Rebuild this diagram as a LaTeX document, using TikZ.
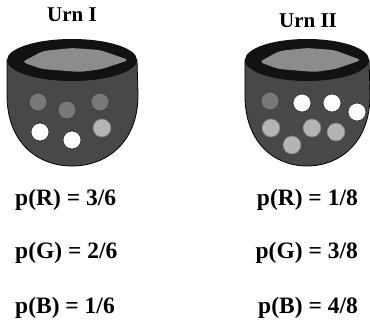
\documentclass[tikz,border=0pt]{standalone}
\usepackage{fontspec}
\setmainfont{Liberation Serif}
\definecolor{urnbody}{HTML}{484848}
\definecolor{urnrim}{HTML}{121212}
\definecolor{urnmouth}{HTML}{8C8C8C}
\definecolor{ballred}{HTML}{787878}
\definecolor{ballgreen}{HTML}{B4B4B4}
\begin{document}
\begin{tikzpicture}[x=1pt,y=-1pt,
  body/.style={fill=urnbody, draw=black, line width=0.8pt},
  rim/.style={fill=urnrim},
  mouth/.style={fill=urnmouth, rounded corners=4pt},
  redball/.style={circle, minimum size=18pt, inner sep=0pt, fill=ballred, draw=black!75, line width=0.7pt},
  whiteball/.style={circle, minimum size=18pt, inner sep=0pt, fill=white, draw=black!80, line width=0.7pt},
  greenball/.style={circle, minimum size=18pt, inner sep=0pt, fill=ballgreen, draw=black!55, line width=0.9pt, densely dotted},
  title/.style={font=\fontsize{21}{24}\selectfont\bfseries},
  prob/.style={font=\fontsize{23.5}{26}\selectfont\bfseries, inner sep=0pt}]
\useasboundingbox (0,0) rectangle (370,332);

% one urn: body, black rim and grey mouth, centred on x = #1
\newcommand\drawurnat[2]{%
  \begin{scope}[shift={(#1,0)}, xscale=#2]
    \draw[body] (-65,60) -- (-65,95) .. controls (-65,143) and (-34,166) .. (0,166)
      .. controls (34,166) and (66,143) .. (66,95) -- (65,60) -- cycle;
    \fill[rim] (0,60) ellipse [x radius=65, y radius=21];
    \fill[mouth] (-50,62) -- (-29,51) -- (0,48) -- (28,50) -- (57,60)
      -- (30,69) -- (8,72) -- (-30,69) -- cycle;
  \end{scope}}

\drawurnat{72}{1}
\drawurnat{307}{0.955}

\node[title] (t1) at (72,15) {Urn I};
\node[title] (t2) at (308,21) {Urn II};

% balls of urn I
\node[redball]   (a1) at (38,102) {};
\node[redball]   (a2) at (67,110) {};
\node[redball]   (a3) at (100,102) {};
\node[whiteball] (a4) at (40,132) {};
\node[whiteball] (a5) at (72,140) {};
\node[greenball] (a6) at (102,128) {};

% balls of urn II
\node[redball]   (b1) at (270,101) {};
\node[whiteball] (b2) at (302,103) {};
\node[whiteball] (b3) at (332,103) {};
\node[whiteball] (b4) at (357,112) {};
\node[greenball] (b5) at (271,128) {};
\node[greenball] (b6) at (312,128) {};
\node[greenball] (b7) at (336,132) {};
\node[greenball] (b8) at (292,145) {};

% probabilities
\node[prob, anchor=base west] (p1) at (15,205) {p(R) = 3/6};
\node[prob, anchor=base west] (p2) at (15,258) {p(G) = 2/6};
\node[prob, anchor=base west] (p3) at (15,313) {p(B) = 1/6};
\node[prob, anchor=base east] (q1) at (358,205) {p(R) = 1/8};
\node[prob, anchor=base east] (q2) at (358,258) {p(G) = 3/8};
\node[prob, anchor=base east] (q3) at (358,313) {p(B) = 4/8};
\end{tikzpicture}
\end{document}
